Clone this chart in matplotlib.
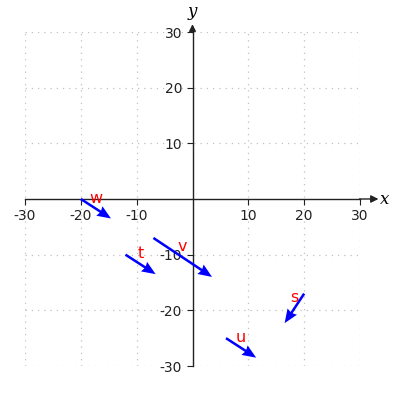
import matplotlib
matplotlib.use("Agg")
import matplotlib.pyplot as plt

plt.rcParams['axes.unicode_minus'] = False

labels = ['w', 't', 'v', 's', 'u']
starts_x = [-20, -12, -7, 20, 6]
starts_y = [0, -10, -7, -17, -25]
vec_x = [5.4, 5.4, 10.5, -3.5, 5.4]
vec_y = [-3.5, -3.5, -7.0, -5.3, -3.5]
ticks = [-30, -20, -10, 10, 20, 30]
tick_labels = ['-30', '-20', '-10', '10', '20', '30']

fig = plt.figure(figsize=(4, 4), dpi=100)
ax = fig.add_axes([0.0625, 0.085, 0.8375, 0.835])
ax.set_xlim(-30, 30)
ax.set_ylim(-30, 30)

ax.spines['left'].set_position(('data', 0))
ax.spines['bottom'].set_position(('data', 0))
ax.spines['right'].set_visible(False)
ax.spines['top'].set_visible(False)
for sp in ('left', 'bottom'):
    ax.spines[sp].set_linewidth(1.0)
    ax.spines[sp].set_color('#222222')

ax.set_xticks(ticks)
ax.set_xticklabels(tick_labels)
ax.set_yticks(ticks)
ax.set_yticklabels(tick_labels)
ax.tick_params(axis='both', direction='out', length=4, labelsize=10, colors='#222222')
ax.grid(True, linestyle=(0, (1, 4)), color='#c0c0c0', linewidth=0.9)
ax.set_axisbelow(True)

ax.annotate('', xy=(33.3, 0), xytext=(29.9, 0),
            arrowprops=dict(arrowstyle='-|>', color='#222222', lw=1.0, mutation_scale=11,
                            shrinkA=0, shrinkB=0),
            annotation_clip=False)
ax.annotate('', xy=(0, 31.4), xytext=(0, 29.9),
            arrowprops=dict(arrowstyle='-|>', color='#222222', lw=1.0, mutation_scale=10,
                            shrinkA=0, shrinkB=0),
            annotation_clip=False)
ax.text(34.4, 0, 'x', family='DejaVu Serif', style='italic', fontsize=12,
        ha='center', va='center', clip_on=False)
ax.text(0, 33.7, 'y', family='DejaVu Serif', style='italic', fontsize=12,
        ha='center', va='center', clip_on=False)

ax.quiver(starts_x, starts_y, vec_x, vec_y, angles='xy', scale_units='xy', scale=1,
          color='blue', width=0.0075, headwidth=4.5, headlength=5.5, headaxislength=5,
          zorder=3)
for lab, x0, y0, dx, dy in zip(labels, starts_x, starts_y, vec_x, vec_y):
    ax.text(x0 + dx / 2, y0 + dy / 2 + 1.9, lab, color='red', fontsize=11.5,
            ha='center', va='center', zorder=4)

fig.savefig('out.png', dpi=100)
